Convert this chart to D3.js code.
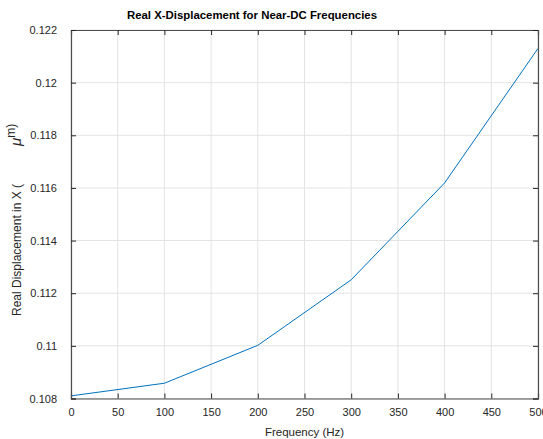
<!DOCTYPE html>
<html>
<head>
<meta charset="utf-8">
<script src="https://cdn.jsdelivr.net/npm/d3@7"></script>
<style>
  body { margin: 0; background: #fff; }
  svg { font-family: "Liberation Sans", Arial, sans-serif; }
</style>
</head>
<body>
<div id="chart"></div>
<script>
// Data
const freqs = [0, 100, 200, 300, 400, 500];
const realDisp = [0.1081, 0.10858, 0.11002, 0.11251, 0.11619, 0.1213];
const xTicks = [0, 50, 100, 150, 200, 250, 300, 350, 400, 450, 500];
const yTicks = [0.108, 0.11, 0.112, 0.114, 0.116, 0.118, 0.12, 0.122];

const width = 543, height = 439;
const margin = { left: 71, right: 5, top: 30, bottom: 40.5 };
const innerW = width - margin.left - margin.right;
const innerH = height - margin.top - margin.bottom;

const svg = d3.select("#chart").append("svg")
  .attr("width", width)
  .attr("height", height);

const x = d3.scaleLinear().domain([0, 500]).range([0, innerW]);
const y = d3.scaleLinear().domain([0.108, 0.122]).range([innerH, 0]);

const g = svg.append("g")
  .attr("transform", `translate(${margin.left},${margin.top})`);

// grid lines
g.selectAll(".vgrid").data(xTicks).enter().append("line")
  .attr("x1", d => x(d)).attr("x2", d => x(d))
  .attr("y1", 0).attr("y2", innerH)
  .attr("stroke", "#e3e3e3").attr("stroke-width", 1);
g.selectAll(".hgrid").data(yTicks).enter().append("line")
  .attr("x1", 0).attr("x2", innerW)
  .attr("y1", d => y(d)).attr("y2", d => y(d))
  .attr("stroke", "#e3e3e3").attr("stroke-width", 1);

// data line
const line = d3.line().x((d, i) => x(freqs[i])).y(d => y(d));
g.append("path")
  .datum(realDisp)
  .attr("d", line)
  .attr("fill", "none")
  .attr("stroke", "#0072BD")
  .attr("stroke-width", 1);

// axes (ticks inward, MATLAB style)
const fmt = d => String(+d.toFixed(3));
const axisColor = "#4d4d4d";
const axBottom = g.append("g").attr("transform", `translate(0,${innerH})`)
  .call(d3.axisBottom(x).tickValues(xTicks).tickSize(-5).tickPadding(8).tickFormat(d3.format("d")));
const axTop = g.append("g")
  .call(d3.axisTop(x).tickValues(xTicks).tickSize(-5).tickFormat(""));
const axLeft = g.append("g")
  .call(d3.axisLeft(y).tickValues(yTicks).tickSize(-5).tickPadding(14).tickFormat(fmt));
const axRight = g.append("g").attr("transform", `translate(${innerW},0)`)
  .call(d3.axisRight(y).tickValues(yTicks).tickSize(-5).tickFormat(""));

[axBottom, axTop, axLeft, axRight].forEach(a => {
  a.select(".domain").attr("stroke", axisColor).attr("stroke-width", 1.2);
  a.selectAll(".tick line").attr("stroke", "#262626");
  a.selectAll("text").attr("fill", "#262626").style("font-size", "11px")
    .style("font-family", "'Liberation Sans', Arial, sans-serif");
});
axBottom.selectAll("text").attr("dy", "0.9em");

// title
svg.append("text")
  .attr("x", 252).attr("y", 19)
  .attr("text-anchor", "middle")
  .style("font-size", "11.4px").style("font-weight", "bold")
  .attr("fill", "#000")
  .text("Real X-Displacement for Near-DC Frequencies");

// x label
svg.append("text")
  .attr("x", margin.left + innerW / 2).attr("y", 436)
  .attr("text-anchor", "middle")
  .style("font-size", "11.5px").attr("fill", "#262626")
  .text("Frequency (Hz)");

// y label with the odd mu rendering
const yl = svg.append("text")
  .attr("transform", "translate(21,316) rotate(-90)")
  .attr("text-anchor", "start")
  .style("font-size", "12px").attr("fill", "#262626");
yl.append("tspan").text("Real Displacement in X (");
yl.append("tspan").attr("dx", 38).style("font-size", "15px").style("font-style", "italic").text("\u03bc");
yl.append("tspan").attr("dy", -6).text("m)");
</script>
</body>
</html>
